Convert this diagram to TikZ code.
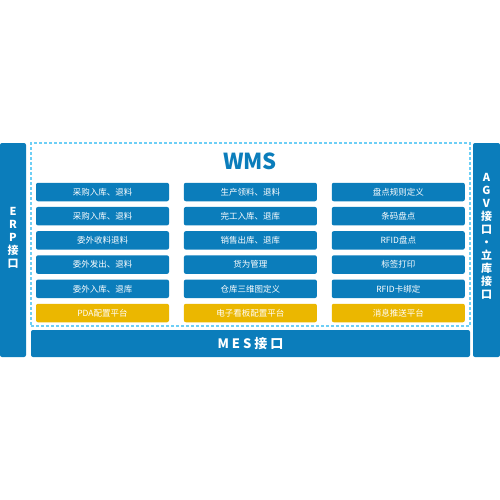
\documentclass[tikz,border=0pt]{standalone}
\usepackage{fontspec}
\setmainfont{Noto Sans CJK SC}
\usetikzlibrary{positioning}
\definecolor{wmsblue}{HTML}{0B7DBB}
\definecolor{platyellow}{HTML}{EBB700}
\definecolor{dashblue}{HTML}{6DCFF6}

\begin{document}
\begin{tikzpicture}[
    x=1pt, y=-1pt,
    node distance=5.3pt and 14.5pt,
    func/.style={rectangle, fill=wmsblue, rounded corners=2pt, minimum width=133pt, minimum height=18.5pt, inner sep=0pt, text=white, font=\fontsize{8.5}{10}\selectfont},
    plat/.style={func, fill=platyellow},
    bar/.style={rectangle, fill=wmsblue, rounded corners=2pt, inner sep=0pt},
    vlabel/.style={text=white, text width=20pt, align=center, inner sep=0pt, font=\bfseries\fontsize{11}{13}\selectfont, execute at begin node={\lineskiplimit=-20pt\relax}}
]
    \useasboundingbox (0,0) rectangle (500,500);

    % side interfaces
    \node[bar, minimum width=26pt, minimum height=214pt] (erp) at (13,250) {};
    \node[bar, minimum width=27pt, minimum height=214pt] (agv) at (486.5,250) {};
    \node[bar, minimum width=439pt, minimum height=27pt] (mes) at (250.5,343.5) {};
    \node[vlabel] (erptext) at (13,237.5) {E\\R\\P\\接\\口};
    \node[vlabel] (agvtext) at (486.5,236) {A\\G\\V\\接\\口\\·\\立\\库\\接\\口};
    \node[text=white, inner sep=0pt, font=\bfseries\fontsize{13}{13}\selectfont] (mestext) at (mes) {M\hspace{3pt}E\hspace{3pt}S\hspace{3pt}接\hspace{3pt}口};

    % WMS frame
    \node[rectangle, draw=dashblue, dashed, dash pattern=on 3pt off 2pt, line width=1.1pt, minimum width=439pt, minimum height=183pt] (wms) at (250.5,234.5) {};
    \node[text=wmsblue, inner sep=0pt, font=\bfseries\fontsize{22}{22}\selectfont] (title) at (250,161) {WMS};

    \node[func] (a1) at (102.5,192) {采购入库、退料};
    \node[func, below=of a1] (a2) {采购入库、退料};
    \node[func, below=of a2] (a3) {委外收料退料};
    \node[func, below=of a3] (a4) {委外发出、退料};
    \node[func, below=of a4] (a5) {委外入库、退库};
    \node[plat, below=of a5] (a6) {PDA配置平台};

    \node[func, right=of a1] (b1) {生产领料、退料};
    \node[func, below=of b1] (b2) {完工入库、退库};
    \node[func, below=of b2] (b3) {销售出库、退库};
    \node[func, below=of b3] (b4) {货为管理};
    \node[func, below=of b4] (b5) {仓库三维图定义};
    \node[plat, below=of b5] (b6) {电子看板配置平台};

    \node[func, right=of b1] (c1) {盘点规则定义};
    \node[func, below=of c1] (c2) {条码盘点};
    \node[func, below=of c2] (c3) {RFID盘点};
    \node[func, below=of c3] (c4) {标签打印};
    \node[func, below=of c4] (c5) {RFID卡绑定};
    \node[plat, below=of c5] (c6) {消息推送平台};
\end{tikzpicture}
\end{document}
